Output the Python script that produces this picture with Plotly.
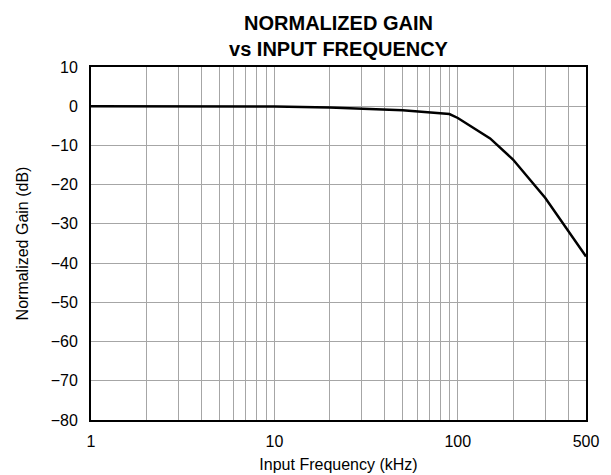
import plotly.graph_objects as go

# curve
freq_khz = [1, 2, 5, 10, 20, 50, 90, 100, 150, 200, 300, 500]
gain_db = [0.0, 0.0, 0.0, -0.1, -0.3, -1.0, -2.0, -3.0, -8.2, -13.6, -23.4, -38.3]

x_ticks = [1, 10, 100, 500]
x_minor = [2, 3, 4, 5, 6, 7, 8, 9, 20, 30, 40, 50, 60, 70, 80, 90, 200, 300, 400]
y_ticks = list(range(-80, 11, 10))

FONT = "Liberation Sans, Arial, sans-serif"
GRID = "#a6a6a6"

fig = go.Figure()
fig.add_trace(go.Scatter(
    x=freq_khz, y=gain_db,
    mode="lines",
    line=dict(color="black", width=2.5),
    showlegend=False,
))

# the page body adds an 8px offset, margins account for it
fig.update_layout(
    width=611, height=475,
    paper_bgcolor="white",
    plot_bgcolor="white",
    font=dict(family=FONT, size=16, color="black"),
    margin=dict(l=83, r=33, t=59, b=63),
    title=dict(
        text="<b>NORMALIZED GAIN<br>vs INPUT FREQUENCY</b>",
        x=(83 + 578) / 2 / 611, xanchor="center",
        yref="container", y=1 - 22 / 475, yanchor="middle",
        font=dict(size=20, family=FONT),
    ),
)

fig.update_xaxes(
    type="log",
    range=[0, 2.69897],
    tickvals=x_ticks,
    ticktext=[str(v) for v in x_ticks],
    showgrid=True, gridcolor=GRID, gridwidth=1,
    minor=dict(tickvals=x_minor, showgrid=True, gridcolor=GRID, gridwidth=1),
    showline=True, linecolor="black", linewidth=2, mirror=True,
    ticks="", ticklabelstandoff=6,
    zeroline=False,
    title=dict(text="Input Frequency (kHz)", font=dict(size=16), standoff=10),
)

fig.update_yaxes(
    range=[-80, 10],
    tickvals=y_ticks,
    showgrid=True, gridcolor=GRID, gridwidth=1,
    showline=True, linecolor="black", linewidth=2, mirror=True,
    ticks="", ticklabelstandoff=8,
    zeroline=False,
    title=dict(text="Normalized Gain (dB)", font=dict(size=16), standoff=18),
)

fig.write_html("out.html")
